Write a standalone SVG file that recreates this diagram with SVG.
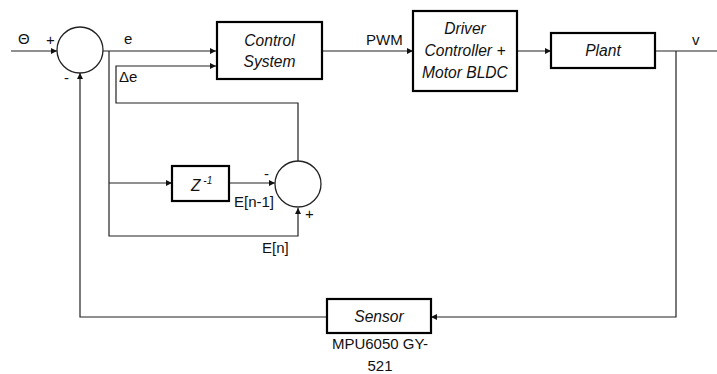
<svg xmlns="http://www.w3.org/2000/svg" width="717" height="374" viewBox="0 0 717 374">
<style>
.box{fill:#fff;stroke:#000;stroke-width:2.2}
.sum{fill:#fff;stroke:#222;stroke-width:1.3}
.ln{fill:none;stroke:#222;stroke-width:1.2}
text{font-family:"Liberation Sans",Arial,sans-serif;font-size:15px;fill:#111}
.it{font-style:italic;font-size:15.6px}
.c{text-anchor:middle}
</style>
<defs>
<marker id="ah" viewBox="0 0 10 10" refX="10" refY="5" markerWidth="6" markerHeight="6" markerUnits="userSpaceOnUse" orient="auto">
<path d="M0,0 L10,5 L0,10 z" fill="#111"/>
</marker>
</defs>
<rect width="717" height="374" fill="#fff"/>
<g id="connectors">
<path class="ln" d="M11,51 H57" marker-end="url(#ah)"/>
<path class="ln" d="M103,51 H216" marker-end="url(#ah)"/>
<path class="ln" d="M109,51 V236 H298 V208" marker-end="url(#ah)"/>
<path class="ln" d="M109,183 H172" marker-end="url(#ah)"/>
<path class="ln" d="M229,183 H275" marker-end="url(#ah)"/>
<path class="ln" d="M298,161 V103 H116 V66 H216" marker-end="url(#ah)"/>
<path class="ln" d="M322,51 H413" marker-end="url(#ah)"/>
<path class="ln" d="M517,51 H551" marker-end="url(#ah)"/>
<path class="ln" d="M655,51 H717"/>
<path class="ln" d="M676,51 V317 H431" marker-end="url(#ah)"/>
<path class="ln" d="M327,317 H80 V73" marker-end="url(#ah)"/>
</g>
<g id="labels">
<text x="18" y="44" font-size="16">Θ</text>
<text x="46" y="45">+</text>
<text x="64" y="83">-</text>
<text x="124" y="44">e</text>
<text x="119" y="82">Δe</text>
<text x="366" y="45">PWM</text>
<text x="692" y="45">v</text>
<text x="264" y="179">-</text>
<text x="234" y="207">E[n-1]</text>
<text x="305" y="219">+</text>
<text x="262" y="253">E[n]</text>
<text class="c" x="380" y="349">MPU6050 GY-</text>
<text class="c" x="380" y="371">521</text>
</g>
<g id="sum1"><circle class="sum" cx="80" cy="50" r="23"/></g>
<g id="sum2"><circle class="sum" cx="298" cy="184" r="23"/></g>
<g id="control"><rect class="box" x="217" y="22" width="105" height="57"/>
<text class="it c" x="269.5" y="46">Control</text>
<text class="it c" x="269.5" y="67">System</text></g>
<g id="driver"><rect class="box" x="413" y="11" width="104" height="80"/>
<text class="it c" x="465" y="34">Driver</text>
<text class="it c" x="465" y="56">Controller +</text>
<text class="it c" x="465" y="78">Motor BLDC</text></g>
<g id="plant"><rect class="box" x="551" y="33" width="104" height="35"/>
<text class="it c" x="603" y="56">Plant</text></g>
<g id="delay"><rect class="box" x="172" y="166" width="57" height="35"/>
<text class="it" x="191" y="191">Z<tspan font-size="10" dy="-7"> -1</tspan></text></g>
<g id="sensor"><rect class="box" x="327" y="299" width="104" height="34"/>
<text class="it c" x="379" y="322">Sensor</text></g>
</svg>
